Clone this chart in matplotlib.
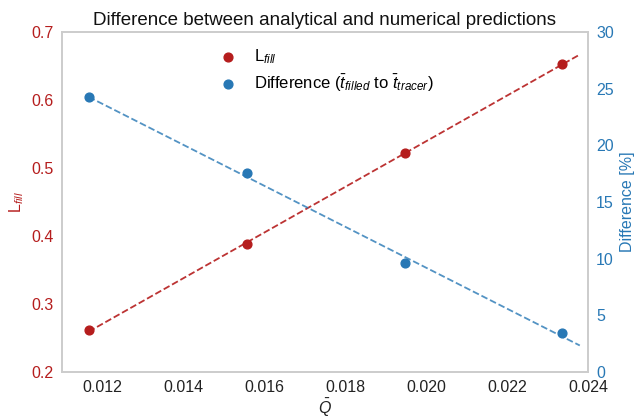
"""Analytical vs numerical predictions: L_fill and relative difference vs Q-bar."""

import matplotlib

matplotlib.use("Agg")
import matplotlib.pyplot as plt  # noqa: E402
import numpy as np  # noqa: E402

Q_BAR = [0.01166, 0.01557, 0.01947, 0.02335]
L_FILL = [0.2614, 0.3878, 0.5216, 0.6530]
DIFF_PCT = [24.27, 17.53, 9.59, 3.44]
FIT_END = 0.0238

RED = "#b51d1d"
BLUE = "#2878b5"
SPINE = "#cccccc"

plt.rcParams["font.family"] = ["Liberation Sans", "DejaVu Sans"]
plt.rcParams["mathtext.fontset"] = "custom"
plt.rcParams["mathtext.rm"] = "Liberation Sans"
plt.rcParams["mathtext.it"] = "Liberation Sans:italic"

fig, ax = plt.subplots(figsize=(6.39, 4.18), dpi=100)
ax2 = ax.twinx()

x = np.array(Q_BAR)
xf = np.linspace(x[0], FIT_END, 50)

p_red = np.polyfit(x, L_FILL, 1)
p_blue = np.polyfit(x, DIFF_PCT, 1)

h1 = ax.scatter(x, L_FILL, color=RED, s=40, zorder=3, label=r"L$_{fill}$")
ax.plot(xf, np.polyval(p_red, xf), color=RED, ls="--", lw=1.3, alpha=0.9)
h2 = ax2.scatter(x, DIFF_PCT, color=BLUE, s=40, zorder=3,
                 label=r"Difference ($\bar{t}_{filled}$ to $\bar{t}_{tracer}$)")
ax2.plot(xf, np.polyval(p_blue, xf), color=BLUE, ls="--", lw=1.3, alpha=0.8)

ax.set_xlim(0.011, 0.024)
ax.set_ylim(0.2, 0.7)
ax2.set_ylim(0, 30)
ax.set_xticks(np.arange(0.012, 0.0241, 0.002))
ax.set_xticklabels([f"{v:.3f}" for v in np.arange(0.012, 0.0241, 0.002)])

for a in (ax, ax2):
    for s in a.spines.values():
        s.set_color(SPINE)
        s.set_linewidth(1.2)
    a.tick_params(length=0, labelsize=11.5)
ax.tick_params(axis="x", colors="#222222", pad=6)
ax.tick_params(axis="y", colors=RED, pad=6)
ax2.tick_params(axis="y", colors=BLUE, pad=6)

ax.set_xlabel(r"$\bar{Q}$", fontsize=11.5, color="#222222", labelpad=1)
ax.set_ylabel(r"L$_{fill}$", fontsize=11.5, color=RED)
ax2.set_ylabel("Difference [%]", fontsize=11.5, color=BLUE)
ax.set_title("Difference between analytical and numerical predictions",
             fontsize=13.5, color="#111111", pad=5)

ax.legend(handles=[h1, h2], loc="upper left", bbox_to_anchor=(0.255, 1.0),
          frameon=False, fontsize=12, handletextpad=0.6, labelspacing=0.4)

fig.subplots_adjust(left=0.097, right=0.92, top=0.923, bottom=0.11)
fig.savefig("out.png", dpi=100)
